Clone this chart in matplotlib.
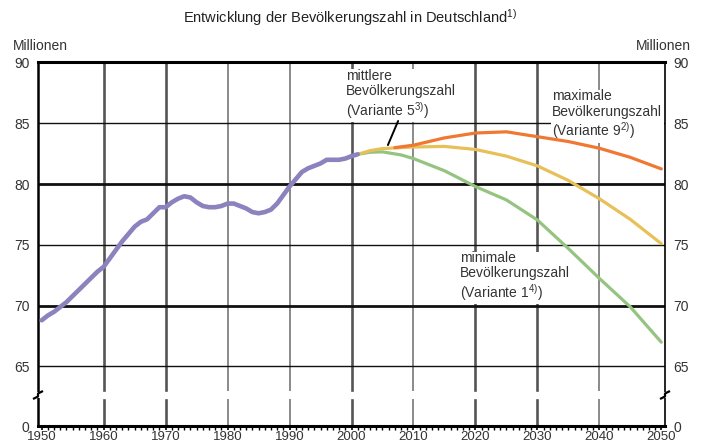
import matplotlib
matplotlib.use("Agg")
import matplotlib.pyplot as plt
from matplotlib.lines import Line2D
from matplotlib.patches import Rectangle

plt.rcParams['font.family'] = ['Liberation Sans', 'DejaVu Sans']
plt.rcParams['mathtext.fontset'] = 'custom'
plt.rcParams['mathtext.rm'] = 'Liberation Sans'
plt.rcParams['mathtext.it'] = 'Liberation Sans'
plt.rcParams['mathtext.bf'] = 'Liberation Sans'

# ---------------- data (millions) ----------------
hist_years = [1950, 1951, 1952, 1953, 1954, 1955, 1956, 1957, 1958, 1959,
              1960, 1961, 1962, 1963, 1964, 1965, 1966, 1967, 1968, 1969,
              1970, 1971, 1972, 1973, 1974, 1975, 1976, 1977, 1978, 1979,
              1980, 1981, 1982, 1983, 1984, 1985, 1986, 1987, 1988, 1989,
              1990, 1991, 1992, 1993, 1994, 1995, 1996, 1997, 1998, 1999,
              2000, 2001]
hist_vals = [68.8, 69.2, 69.5, 69.9, 70.3, 70.8, 71.3, 71.8, 72.3, 72.8,
             73.2, 73.9, 74.6, 75.3, 75.9, 76.5, 76.9, 77.1, 77.6, 78.1,
             78.1, 78.5, 78.8, 79.0, 78.9, 78.5, 78.2, 78.1, 78.1, 78.2,
             78.4, 78.4, 78.2, 78.0, 77.7, 77.6, 77.7, 77.9, 78.4, 79.1,
             79.8, 80.4, 81.0, 81.3, 81.5, 81.7, 82.0, 82.0, 82.0, 82.1,
             82.3, 82.45]

min_years = [2001, 2003, 2005, 2008, 2010, 2015, 2020, 2025, 2030, 2035, 2040, 2045, 2050]
min_vals = [82.45, 82.62, 82.65, 82.4, 82.1, 81.1, 79.8, 78.7, 77.05, 74.7, 72.25, 69.9, 67.0]

mid_years = [2001, 2003, 2005, 2010, 2015, 2020, 2025, 2030, 2035, 2040, 2045, 2050]
mid_vals = [82.45, 82.75, 82.92, 83.05, 83.1, 82.85, 82.3, 81.5, 80.3, 78.8, 77.1, 75.1]

max_years = [2007, 2010, 2015, 2020, 2025, 2030, 2035, 2040, 2045, 2050]
max_vals = [83.0, 83.2, 83.8, 84.2, 84.3, 83.9, 83.5, 82.95, 82.2, 81.25]

decades = [1950, 1960, 1970, 1980, 1990, 2000, 2010, 2020, 2030, 2040, 2050]
y_ticks = [65, 70, 75, 80, 85, 90]

# ---------------- styling ----------------
C_HIST = '#8c82be'
C_MIN = '#94c480'
C_MID = '#e8c05a'
C_MAX = '#f07832'
TXT = '#333333'

W, H = 704, 444
fig = plt.figure(figsize=(W / 100, H / 100), dpi=100)

x_left, x_right = 38.0, 665.0
y_top, y_break, y_zero = 62.5, 395.0, 426.0
xlim = (1949.4, 2050.6)

def fx(px):
    return px / W

def fy(py):
    return 1 - py / H

ax = fig.add_axes([fx(x_left), fy(y_break), fx(x_right - x_left), fy(y_top) - fy(y_break)])
axb = fig.add_axes([fx(x_left), fy(y_zero), fx(x_right - x_left), fy(y_break) - fy(y_zero)])

px_per_unit = 12.16
ax.set_ylim(90 - (y_break - y_top) / px_per_unit, 90)
ax.set_xlim(*xlim)
axb.set_xlim(*xlim)
axb.set_ylim(0, 1)

for a in (ax, axb):
    a.set_facecolor('none')

# vertical grid lines (gap at the axis break)
strong = {1960, 1970, 2000, 2020, 2030}
gap_main = 5.0 / (y_break - y_top)
gap_b = (y_zero - 400.0) / (y_zero - y_break)
for d in decades[1:-1]:
    if d in strong:
        kw = dict(color='#555555', lw=1.9)
    else:
        kw = dict(color='#8a8a8a', lw=1.4)
    ax.axvline(d, ymin=gap_main, ymax=1, zorder=1, **kw)
    axb.axvline(d, ymin=0, ymax=gap_b, zorder=1, **kw)

# horizontal grid lines
for v in y_ticks[:-1]:
    thick = v in (70, 80)
    ax.axhline(v, color='#111111', lw=2.0 if thick else 1.0, zorder=1.5)

# spines
ax.spines['top'].set_linewidth(2.2)
ax.spines['left'].set_linewidth(1.8)
ax.spines['right'].set_linewidth(1.2)
ax.spines['bottom'].set_visible(False)
axb.spines['top'].set_visible(False)
axb.spines['bottom'].set_linewidth(2.2)
axb.spines['left'].set_linewidth(1.8)
axb.spines['right'].set_linewidth(1.2)

# ticks main axes: labels both sides
ax.set_yticks(y_ticks)
ax.set_yticklabels([str(v) for v in y_ticks])
ax.tick_params(axis='y', which='both', length=0, pad=6, labelsize=10,
               labelcolor=TXT, left=True, right=True, labelleft=True, labelright=True)
ax.set_xticks([])

axb.set_yticks([0])
axb.set_yticklabels(['0'])
axb.tick_params(axis='y', length=0, pad=6, labelsize=10, labelcolor=TXT,
                left=True, right=True, labelleft=True, labelright=True)
axb.set_xticks(decades)
axb.set_xticklabels([str(d) for d in decades])
axb.set_xticks(list(range(1950, 2051)), minor=True)
axb.tick_params(axis='x', which='major', direction='out', length=3, width=1.2,
                pad=0.5, labelsize=9.5, labelcolor=TXT)
axb.tick_params(axis='x', which='minor', direction='out', length=3, width=1.0)

# data lines
ax.plot(min_years, min_vals, color=C_MIN, lw=2.3, solid_capstyle='round', zorder=5)
ax.plot(mid_years, mid_vals, color=C_MID, lw=2.3, solid_capstyle='round', zorder=6)
ax.plot(max_years, max_vals, color=C_MAX, lw=2.3, solid_capstyle='round', zorder=6)
ax.plot(hist_years, hist_vals, color=C_HIST, lw=3.3, solid_capstyle='round', zorder=7)

# labels with white boxes
box = dict(facecolor='white', edgecolor='none', pad=1.0)
lab_kw = dict(fontsize=10, color=TXT, ha='left', va='top', linespacing=1.12, bbox=box, zorder=3)
ax.text(1999.1, 89.5, 'mittlere\nBevölkerungszahl\n(Variante 5$^{3)}$)', **lab_kw)
ax.annotate('', xy=(2005.7, 83.0), xytext=(2007.7, 85.4),
            arrowprops=dict(arrowstyle='-', color='black', lw=1.4), zorder=8)
ax.text(2032.4, 87.8, 'maximale\nBevölkerungszahl\n(Variante 9$^{2)}$)', **lab_kw)
ax.text(2017.5, 74.5, 'minimale\nBevölkerungszahl\n(Variante 1$^{4)}$)', **lab_kw)

# titles
fig.text(fx(350), fy(18), 'Entwicklung der Bevölkerungszahl in Deutschland$^{1)}$',
         ha='center', va='center', fontsize=10.5, color='#222222')
fig.text(fx(13), fy(46), 'Millionen', ha='left', va='center', fontsize=10, color=TXT)
fig.text(fx(691), fy(46), 'Millionen', ha='right', va='center', fontsize=10, color=TXT)

# axis break marks
for xs in (x_left, x_right):
    fig.patches.append(Rectangle((fx(xs - 3), fy(y_break + 3)), fx(6), fy(y_break - 3) - fy(y_break + 3),
                                 transform=fig.transFigure, facecolor='white', edgecolor='none', zorder=9))
    zx = [xs - 4, xs, xs, xs + 4]
    zy = [y_break + 3.5, y_break + 1.5, y_break - 1.5, y_break - 3.5]
    fig.lines.append(Line2D([fx(v) for v in zx], [fy(v) for v in zy], transform=fig.transFigure,
                            color='black', lw=1.6, zorder=10))

fig.savefig('out.png', dpi=100)
